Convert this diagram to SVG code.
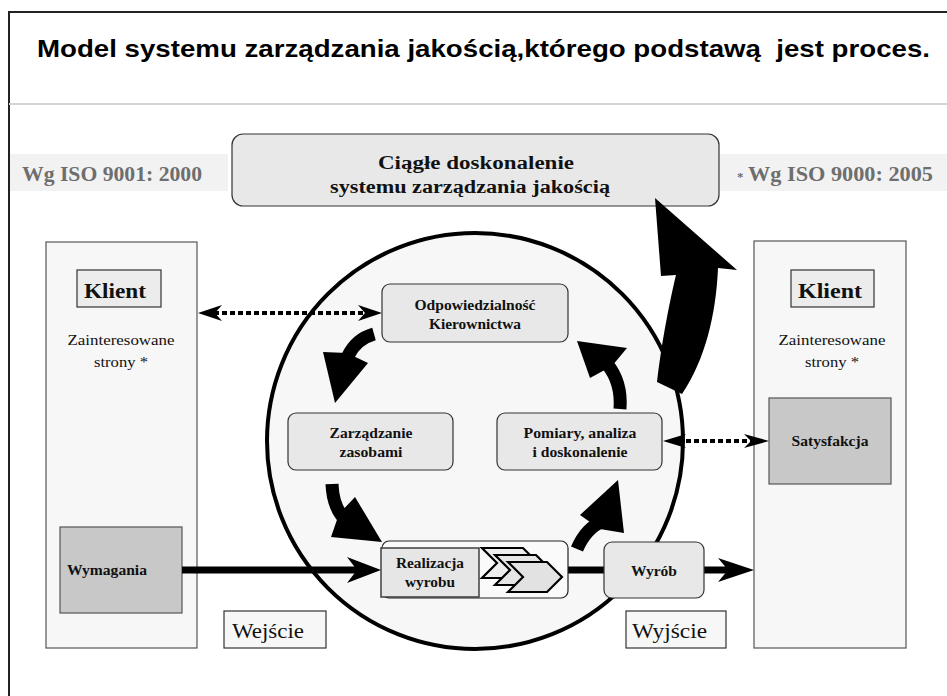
<svg xmlns="http://www.w3.org/2000/svg" width="947" height="696" viewBox="0 0 947 696">
<style>
.b{font-weight:bold}
.box{fill:#e8e8e8;stroke:#333;stroke-width:1.2}
.col{fill:#f7f7f7;stroke:#555;stroke-width:1.2}
.gbox{fill:#c8c8c8;stroke:#555;stroke-width:1.2}
.band{fill:#f2f2f2}
.dot{stroke:#000;stroke-width:4;stroke-dasharray:5 3;fill:none}
.thick{stroke:#000;stroke-width:7;fill:none}
.curve{stroke:#000;stroke-width:13;fill:none}
.head{fill:#000}
</style>
<rect x="0" y="0" width="947" height="696" fill="#fff"/>
<path d="M9,696 L9,12 L950,12" fill="none" stroke="#222" stroke-width="2"/>
<text x="37" y="57" font-family="Liberation Sans, Arial, sans-serif" font-weight="bold" font-size="24" fill="#000" textLength="893" lengthAdjust="spacingAndGlyphs">Model systemu zarządzania jakością,którego podstawą&#160; jest proces.</text>
<line x1="9" y1="104" x2="947" y2="104" stroke="#d4d4d4" stroke-width="2"/>

<g font-family="Liberation Serif, DejaVu Serif, serif" fill="#111" lengthAdjust="spacingAndGlyphs">
<g id="iso2000">
<rect class="band" x="10" y="154" width="218" height="37"/>
<text x="22" y="181" font-weight="bold" font-size="20" fill="#6e6e6e" textLength="180" lengthAdjust="spacingAndGlyphs">Wg ISO 9001: 2000</text>
</g>
<g id="iso2005">
<rect class="band" x="720" y="154" width="227" height="37"/>
<text x="737" y="181" font-weight="bold" font-size="13" fill="#6e6e6e">*</text>
<text x="748" y="181" font-weight="bold" font-size="20" fill="#6e6e6e" textLength="185" lengthAdjust="spacingAndGlyphs">Wg ISO 9000: 2005</text>
</g>

<g id="ciagle">
<rect class="box" x="232" y="134" width="487" height="72" rx="11"/>
<text class="b" x="476" y="169" font-size="18.5" text-anchor="middle" textLength="196" lengthAdjust="spacingAndGlyphs">Ciągłe doskonalenie</text>
<text class="b" x="470" y="193" font-size="18.5" text-anchor="middle" textLength="280" lengthAdjust="spacingAndGlyphs">systemu zarządzania jakością</text>
</g>

<g id="klient-left">
<rect class="col" x="46" y="242" width="151" height="406"/>
<rect x="77" y="270" width="84" height="37" fill="#ececec" stroke="#333" stroke-width="1.2"/>
<text class="b" x="84" y="298" font-size="21" textLength="62" lengthAdjust="spacingAndGlyphs">Klient</text>
<text x="121" y="345" font-size="14.5" text-anchor="middle" textLength="107" lengthAdjust="spacingAndGlyphs">Zainteresowane</text>
<text x="121" y="367" font-size="14.5" text-anchor="middle" textLength="54" lengthAdjust="spacingAndGlyphs">strony *</text>
</g>
<g id="wymagania">
<rect class="gbox" x="60" y="527" width="122" height="86"/>
<text class="b" x="67" y="575" font-size="14" textLength="80" lengthAdjust="spacingAndGlyphs">Wymagania</text>
</g>
<g id="wejscie">
<rect x="224" y="611" width="102" height="37" fill="#f7f7f7" stroke="#333" stroke-width="1.2"/>
<text x="232" y="638" font-size="20" textLength="72" lengthAdjust="spacingAndGlyphs">Wejście</text>
</g>

<g id="klient-right">
<rect class="col" x="754" y="241" width="152" height="407"/>
<rect x="791" y="270" width="83" height="37" fill="#ececec" stroke="#333" stroke-width="1.2"/>
<text class="b" x="798" y="298" font-size="21" textLength="64" lengthAdjust="spacingAndGlyphs">Klient</text>
<text x="832" y="345" font-size="14.5" text-anchor="middle" textLength="107" lengthAdjust="spacingAndGlyphs">Zainteresowane</text>
<text x="832" y="367" font-size="14.5" text-anchor="middle" textLength="54" lengthAdjust="spacingAndGlyphs">strony *</text>
</g>
<g id="satysfakcja">
<rect class="gbox" x="769" y="398" width="122" height="86"/>
<text class="b" x="830" y="446" font-size="14" text-anchor="middle" textLength="77" lengthAdjust="spacingAndGlyphs">Satysfakcja</text>
</g>
<g id="wyjscie">
<rect x="626" y="611" width="100" height="37" fill="#f7f7f7" stroke="#333" stroke-width="1.2"/>
<text x="632" y="638" font-size="20" textLength="75" lengthAdjust="spacingAndGlyphs">Wyjście</text>
</g>

<g id="proces">
<circle cx="475" cy="441" r="208" fill="#f7f7f7" stroke="#000" stroke-width="4"/>
</g>

<g id="odpowiedzialnosc">
<rect class="box" x="382" y="284" width="186" height="58" rx="8"/>
<text class="b" x="475" y="310" font-size="14" text-anchor="middle" textLength="121" lengthAdjust="spacingAndGlyphs">Odpowiedzialność</text>
<text class="b" x="475" y="329" font-size="14" text-anchor="middle" textLength="92" lengthAdjust="spacingAndGlyphs">Kierownictwa</text>
</g>
<g id="zarzadzanie">
<rect class="box" x="288" y="413" width="165" height="57" rx="8"/>
<text class="b" x="371" y="438" font-size="14" text-anchor="middle" textLength="83" lengthAdjust="spacingAndGlyphs">Zarządzanie</text>
<text class="b" x="371" y="457" font-size="14" text-anchor="middle" textLength="63" lengthAdjust="spacingAndGlyphs">zasobami</text>
</g>
<g id="pomiary">
<rect class="box" x="497" y="413" width="165" height="57" rx="8"/>
<text class="b" x="580" y="438" font-size="14" text-anchor="middle" textLength="113" lengthAdjust="spacingAndGlyphs">Pomiary, analiza</text>
<text class="b" x="580" y="457" font-size="14" text-anchor="middle" textLength="95" lengthAdjust="spacingAndGlyphs">i doskonalenie</text>
</g>

<g id="connectors">
<line class="dot" x1="214" y1="313" x2="366" y2="313"/>
<path class="head" d="M198,313 L222,305 L215,313 L222,321 Z"/>
<path class="head" d="M382,313 L358,305 L365,313 L358,321 Z"/>
<line class="dot" x1="678" y1="441" x2="752" y2="441"/>
<path class="head" d="M663,441 L686,434 L679,441 L686,448 Z"/>
<path class="head" d="M769,441 L744,434 L751,441 L744,448 Z"/>
<line class="thick" x1="182" y1="570" x2="362" y2="570"/>
<path class="head" d="M381,570 L347,557 L357,570 L347,583 Z"/>
<line class="thick" x1="568" y1="570" x2="604" y2="570"/>
<line class="thick" x1="704" y1="570" x2="735" y2="570"/>
<path class="head" d="M754,570 L718,558 L728,570 L718,582 Z"/>
<path class="curve" d="M374,334 Q356,339 348,356"/>
<path class="head" d="M335,403 L323,352 L347,353 L368,363 Z"/>
<path class="curve" d="M332,484 Q333,510 348,522"/>
<path class="head" d="M382,542 L331,537 L339,514 L355,497 Z"/>
<path class="curve" d="M577,549 Q586,528 603,521"/>
<path class="head" d="M618,480 L580,515 L600,529 L624,533 Z"/>
<path class="curve" d="M620,409 Q622,382 607,364"/>
<path class="head" d="M577,341 L627,348 L612,366 L590,378 Z"/>
<path class="head" d="M657,382 C662,340 670,300 676,275 L661,276 L655,198 L737,270 L718,268 C716,315 705,360 682,394 Z"/>
</g>

<g id="realizacja">
<rect x="382" y="541" width="186" height="57" rx="7" fill="#fafafa" stroke="#222" stroke-width="1.2"/>
<rect x="381" y="548" width="98" height="49" fill="#e6e6e6" stroke="#333" stroke-width="1.4"/>
<text class="b" x="430" y="568" font-size="14" text-anchor="middle" textLength="68" lengthAdjust="spacingAndGlyphs">Realizacja</text>
<text class="b" x="430" y="587" font-size="14" text-anchor="middle" textLength="50" lengthAdjust="spacingAndGlyphs">wyrobu</text>
<polygon points="482,548 523,548 538,563 523,578 482,578 497,563" fill="#eee" stroke="#000" stroke-width="2.2"/>
<polygon points="495,555 536,555 551,570 536,585 495,585 510,570" fill="#e6e6e6" stroke="#000" stroke-width="2.2"/>
<polygon points="508,562 547,562 562,577 547,592 508,592 523,577" fill="#e2e2e2" stroke="#000" stroke-width="2.2"/>
</g>
<g id="wyrob">
<rect class="box" x="604" y="542" width="100" height="56" rx="8"/>
<text class="b" x="654" y="576" font-size="14" text-anchor="middle" textLength="46" lengthAdjust="spacingAndGlyphs">Wyrób</text>
</g>
</g>
</svg>
